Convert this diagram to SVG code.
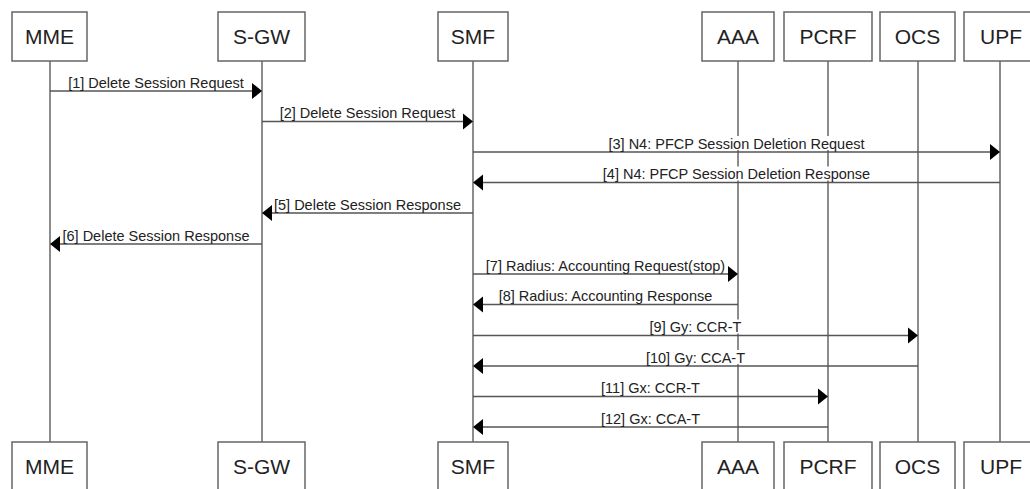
<svg xmlns="http://www.w3.org/2000/svg" width="1030" height="489" viewBox="0 0 1030 489">
<style>
.box{fill:#fff;stroke:#666;stroke-width:1.5}
.nl{font-family:"Liberation Sans",Arial,sans-serif;font-size:21px;fill:#222;text-anchor:middle}
.life{stroke:#666;stroke-width:1.5;fill:none}
.msg{stroke:#555;stroke-width:1.5;fill:none}
.ah{fill:#000}
.bg{fill:#fff}
.ml{font-family:"Liberation Sans",Arial,sans-serif;font-size:14.5px;fill:#222;text-anchor:middle}
</style>
<rect width="1030" height="489" fill="#fff"/>
<g id="lifelines">
<line class="life" x1="50" y1="61" x2="50" y2="442"/>
<line class="life" x1="262" y1="61" x2="262" y2="442"/>
<line class="life" x1="473" y1="61" x2="473" y2="442"/>
<line class="life" x1="738" y1="61" x2="738" y2="442"/>
<line class="life" x1="828" y1="61" x2="828" y2="442"/>
<line class="life" x1="918" y1="61" x2="918" y2="442"/>
<line class="life" x1="1000" y1="61" x2="1000" y2="442"/>
</g>
<g id="MME">
<rect class="box" x="12" y="12" width="75" height="49"/><text class="nl" x="49.5" y="43.5">MME</text>
<rect class="box" x="12" y="442" width="75" height="49"/><text class="nl" x="49.5" y="473.5">MME</text>
</g>
<g id="S-GW">
<rect class="box" x="218" y="12" width="87" height="49"/><text class="nl" x="261.5" y="43.5">S-GW</text>
<rect class="box" x="218" y="442" width="87" height="49"/><text class="nl" x="261.5" y="473.5">S-GW</text>
</g>
<g id="SMF">
<rect class="box" x="438" y="12" width="70" height="49"/><text class="nl" x="473" y="43.5">SMF</text>
<rect class="box" x="438" y="442" width="70" height="49"/><text class="nl" x="473" y="473.5">SMF</text>
</g>
<g id="AAA">
<rect class="box" x="702" y="12" width="72" height="49"/><text class="nl" x="738" y="43.5">AAA</text>
<rect class="box" x="702" y="442" width="72" height="49"/><text class="nl" x="738" y="473.5">AAA</text>
</g>
<g id="PCRF">
<rect class="box" x="784" y="12" width="88" height="49"/><text class="nl" x="828" y="43.5">PCRF</text>
<rect class="box" x="784" y="442" width="88" height="49"/><text class="nl" x="828" y="473.5">PCRF</text>
</g>
<g id="OCS">
<rect class="box" x="880" y="12" width="75" height="49"/><text class="nl" x="917.5" y="43.5">OCS</text>
<rect class="box" x="880" y="442" width="75" height="49"/><text class="nl" x="917.5" y="473.5">OCS</text>
</g>
<g id="UPF">
<rect class="box" x="964" y="12" width="74" height="49"/><text class="nl" x="1001" y="43.5">UPF</text>
<rect class="box" x="964" y="442" width="74" height="49"/><text class="nl" x="1001" y="473.5">UPF</text>
</g>
<g id="connectors">
<line class="msg" x1="50" y1="91" x2="252" y2="91"/><polygon class="ah" points="252,83 262,91 252,99"/>
<rect class="bg" x="66" y="75" width="180" height="14"/><text class="ml" x="156" y="87.5">[1] Delete Session Request</text>

<line class="msg" x1="262" y1="121.5" x2="463" y2="121.5"/><polygon class="ah" points="463,113.5 473,121.5 463,129.5"/>
<rect class="bg" x="277.5" y="105.5" width="180" height="14"/><text class="ml" x="367.5" y="118">[2] Delete Session Request</text>

<line class="msg" x1="473" y1="152" x2="990" y2="152"/><polygon class="ah" points="990,144 1000,152 990,160"/>
<rect class="bg" x="606.5" y="136" width="260" height="14"/><text class="ml" x="736.5" y="148.5">[3] N4: PFCP Session Deletion Request</text>

<line class="msg" x1="1000" y1="182.5" x2="483" y2="182.5"/><polygon class="ah" points="483,174.5 473,182.5 483,190.5"/>
<rect class="bg" x="601" y="166.5" width="271" height="14"/><text class="ml" x="736.5" y="179">[4] N4: PFCP Session Deletion Response</text>

<line class="msg" x1="473" y1="213" x2="272" y2="213"/><polygon class="ah" points="272,205 262,213 272,221"/>
<rect class="bg" x="273" y="197" width="189" height="14"/><text class="ml" x="367.5" y="209.5">[5] Delete Session Response</text>

<line class="msg" x1="262" y1="244" x2="60" y2="244"/><polygon class="ah" points="60,236 50,244 60,252"/>
<rect class="bg" x="61.5" y="228" width="189" height="14"/><text class="ml" x="156" y="240.5">[6] Delete Session Response</text>

<line class="msg" x1="473" y1="274" x2="728" y2="274"/><polygon class="ah" points="728,266 738,274 728,282"/>
<rect class="bg" x="484" y="258" width="243" height="14"/><text class="ml" x="605.5" y="270.5">[7] Radius: Accounting Request(stop)</text>

<line class="msg" x1="738" y1="304.5" x2="483" y2="304.5"/><polygon class="ah" points="483,296.5 473,304.5 483,312.5"/>
<rect class="bg" x="497.5" y="288.5" width="216" height="14"/><text class="ml" x="605.5" y="301">[8] Radius: Accounting Response</text>

<line class="msg" x1="473" y1="335.5" x2="908" y2="335.5"/><polygon class="ah" points="908,327.5 918,335.5 908,343.5"/>
<rect class="bg" x="648.5" y="319.5" width="94" height="14"/><text class="ml" x="695.5" y="332">[9] Gy: CCR-T</text>

<line class="msg" x1="918" y1="366" x2="483" y2="366"/><polygon class="ah" points="483,358 473,366 483,374"/>
<rect class="bg" x="645" y="350" width="101" height="14"/><text class="ml" x="695.5" y="362.5">[10] Gy: CCA-T</text>

<line class="msg" x1="473" y1="396.5" x2="818" y2="396.5"/><polygon class="ah" points="818,388.5 828,396.5 818,404.5"/>
<rect class="bg" x="600" y="380.5" width="101" height="14"/><text class="ml" x="650.5" y="393">[11] Gx: CCR-T</text>

<line class="msg" x1="828" y1="427" x2="483" y2="427"/><polygon class="ah" points="483,419 473,427 483,435"/>
<rect class="bg" x="600" y="411" width="101" height="14"/><text class="ml" x="650.5" y="423.5">[12] Gx: CCA-T</text>
</g>
</svg>
